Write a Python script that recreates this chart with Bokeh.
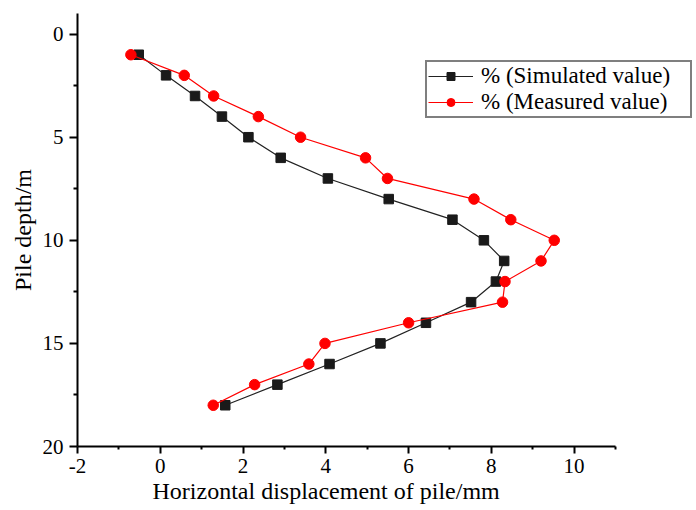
from bokeh.plotting import figure
from bokeh.models import Range1d, FixedTicker, Legend, LegendItem, Title
from bokeh.embed import file_html
from bokeh.resources import INLINE

depth = [1, 2, 3, 4, 5, 6, 7, 8, 9, 10, 11, 12, 13, 14, 15, 16, 17, 18]
simulated = [-0.52, 0.14, 0.84, 1.49, 2.13, 2.91, 4.05, 5.52, 7.06, 7.82,
             8.31, 8.11, 7.51, 6.42, 5.32, 4.09, 2.83, 1.57]
measured = [-0.71, 0.58, 1.29, 2.37, 3.39, 4.96, 5.49, 7.58, 8.47, 9.52,
            9.20, 8.33, 8.27, 6.00, 3.98, 3.59, 2.28, 1.28]

x_ticks = [-2, 0, 2, 4, 6, 8, 10]
x_tick_labels = ["-2", "0", "2", "4", "6", "8", "10"]
x_minor = [-1, 1, 3, 5, 7, 9, 11]
y_ticks = [0, 5, 10, 15, 20]
y_minor = [2.5, 7.5, 12.5, 17.5]

FONT = "Liberation Serif"

# frame spans to the right edge so the legend is not clipped; the x axis
# itself is bounded to -2..11 as in the reference
p = figure(width=696, height=510, output_backend="svg", toolbar_location=None,
           x_range=Range1d(-2, 12.957), y_range=Range1d(20, -1),
           min_border_left=77, min_border_right=0, min_border_top=13,
           min_border_bottom=64)
p.outline_line_color = None
p.xgrid.grid_line_color = None
p.ygrid.grid_line_color = None
p.background_fill_color = "white"
p.border_fill_color = "white"

for ax in (p.xaxis[0], p.yaxis[0]):
    ax.axis_line_width = 2
    ax.axis_line_color = "black"
    ax.major_tick_line_width = 2
    ax.minor_tick_line_width = 2
    ax.major_tick_line_color = "black"
    ax.minor_tick_line_color = "black"
    ax.major_tick_in = 0
    ax.minor_tick_in = 0
    ax.major_tick_out = 7
    ax.minor_tick_out = 3
    ax.major_label_text_font = FONT
    ax.major_label_text_font_size = "21px"
    ax.major_label_text_color = "black"
    ax.axis_label_text_font = FONT
    ax.axis_label_text_font_size = "24px"
    ax.axis_label_text_font_style = "normal"
    ax.axis_label_text_color = "black"

p.xaxis.bounds = (-2, 11)
p.xaxis.ticker = FixedTicker(ticks=x_ticks, minor_ticks=x_minor)
p.xaxis.major_label_overrides = {t: s for t, s in zip(x_ticks, x_tick_labels)}
p.yaxis.ticker = FixedTicker(ticks=y_ticks, minor_ticks=y_minor)
p.yaxis.axis_label = "Pile depth/m"
p.xaxis.major_label_standoff = 5
p.yaxis.major_tick_out = 8
p.yaxis.minor_tick_out = 4
p.yaxis.major_label_standoff = 6
p.yaxis.axis_label_standoff = 4

# x-axis title, placed under the bounded axis (frame is wider than the axis)
xlabel = Title(text="Horizontal displacement of pile/mm", align="left",
               offset=75, standoff=0, text_font=FONT, text_font_size="24px",
               text_font_style="normal", text_color="black")
p.add_layout(xlabel, "below")

l1 = p.line(simulated, depth, line_color="#222222", line_width=1.2)
s1 = p.scatter(simulated, depth, marker="square", size=9.5, fill_color="#1a1a1a",
               line_color="#1a1a1a")
l2 = p.line(measured, depth, line_color="#ff0000", line_width=1.2)
s2 = p.scatter(measured, depth, marker="circle", size=10.5, fill_color="#ff0000",
               line_color="#ff0000")

legend = Legend(items=[LegendItem(label="% (Simulated value)", renderers=[l1, s1]),
                       LegendItem(label="% (Measured value)", renderers=[l2, s2])],
                location=(348, 328))
legend.label_text_font = FONT
legend.label_text_font_size = "23px"
legend.label_text_color = "black"
legend.border_line_color = "black"
legend.border_line_width = 2
legend.background_fill_color = "white"
legend.background_fill_alpha = 1
legend.padding = 1
legend.margin = 0
legend.spacing = 0
legend.glyph_width = 45
legend.glyph_height = 20
legend.label_standoff = 8
legend.label_width = 208
legend.label_height = 20
p.add_layout(legend, "center")

open("out.html", "w").write(file_html(p, INLINE))
